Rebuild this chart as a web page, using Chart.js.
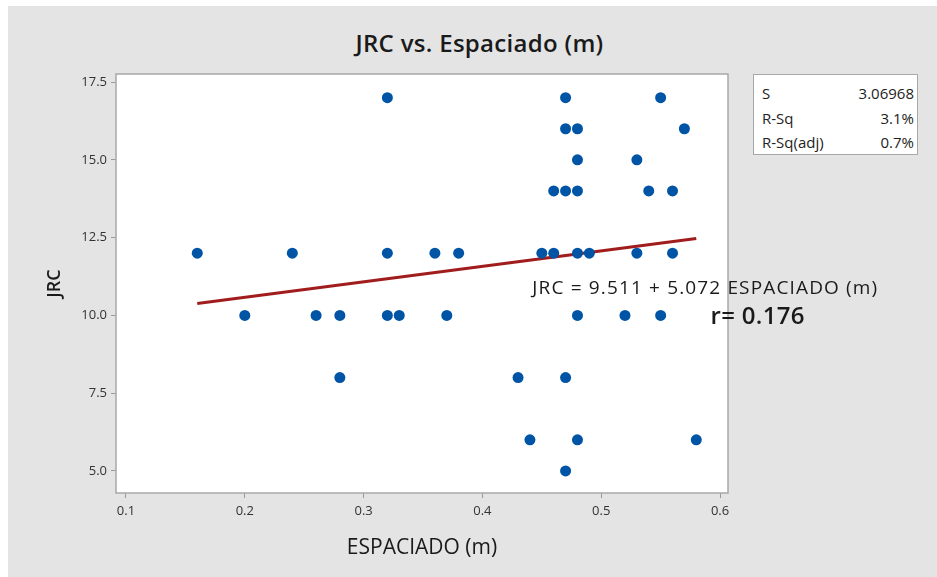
<!DOCTYPE html>
<html>
<head>
<meta charset="utf-8">
<script src="https://cdn.jsdelivr.net/npm/chart.js@4.4.1/dist/chart.umd.min.js"></script>
<style>
	html, body { margin: 0; padding: 0; background: #fff; }
	body { width: 937px; height: 577px; position: relative; overflow: hidden; font-family: 'Open Sans', sans-serif; }
	#frame { position: absolute; left: 8px; top: 6px; right: 0; bottom: 0; background: #e4e4e4; }
	#title { position: absolute; left: 8px; right: 0; top: 26px; padding-left: 14px; text-align: center; font-size: 24px; font-weight: 600; color: #1a1a1a; letter-spacing: 0.3px; }
	#chart { position: absolute; left: 0; top: 0; }
	#stats { position: absolute; left: 753px; top: 74px; width: 163px; height: 79px; background: #fff; border: 1px solid #a8a8a8; font-size: 15px; color: #222; }
	#stats div { display: flex; justify-content: space-between; padding: 0 3px 0 8px; height: 24.5px; line-height: 24.5px; }
	#stats div:first-child { margin-top: 6px; }
</style>
</head>
<body>
<div id="frame"></div>
<div id="title">JRC vs. Espaciado (m)</div>
<canvas id="chart" width="937" height="577"></canvas>
<div id="stats"></div>
<script>
'use strict'

// puntos
const espaciado = [0.32, 0.47, 0.55,
	0.47, 0.48, 0.57,
	0.48, 0.53,
	0.46, 0.47, 0.48, 0.54, 0.56,
	0.16, 0.24, 0.32, 0.36, 0.38, 0.45, 0.46, 0.48, 0.49, 0.53, 0.56,
	0.20, 0.26, 0.28, 0.32, 0.33, 0.37, 0.48, 0.52, 0.55,
	0.28, 0.43, 0.47,
	0.44, 0.48, 0.58,
	0.47];
const jrc = [17, 17, 17,
	16, 16, 16,
	15, 15,
	14, 14, 14, 14, 14,
	12, 12, 12, 12, 12, 12, 12, 12, 12, 12, 12,
	10, 10, 10, 10, 10, 10, 10, 10, 10,
	8, 8, 8,
	6, 6, 6,
	5];

// recta ajustada (extremos)
const fitX = [0.16, 0.58];
const fitY = [10.38, 12.47];

const xTicks = [0.1, 0.2, 0.3, 0.4, 0.5, 0.6];
const yTicks = [5.0, 7.5, 10.0, 12.5, 15.0, 17.5];

const statLabels = ['S', 'R-Sq', 'R-Sq(adj)'];
const statValues = ['3.06968', '3.1%', '0.7%'];

const equation = 'JRC = 9.511 + 5.072 ESPACIADO (m)';
const rText = 'r= 0.176';

const stats = document.getElementById('stats');
statLabels.forEach((l, i) => {
	const row = document.createElement('div');
	row.innerHTML = '<span>' + l + '</span><span>' + statValues[i] + '</span>';
	stats.appendChild(row);
});

const tickFont = { family: "'Open Sans', sans-serif", size: 13 };

const plotBox = {
	id: 'plotBox',
	beforeDatasetsDraw(chart) {
		const a = chart.chartArea;
		const ctx = chart.ctx;
		ctx.save();
		ctx.fillStyle = '#fff';
		ctx.fillRect(a.left, a.top, a.right - a.left, a.bottom - a.top);
		ctx.restore();
	},
	afterDatasetsDraw(chart) {
		const a = chart.chartArea;
		const ctx = chart.ctx;
		const x = chart.scales.x, y = chart.scales.y;
		ctx.save();
		ctx.strokeStyle = '#a8a8a8';
		ctx.lineWidth = 1.5;
		ctx.strokeRect(a.left, a.top, a.right - a.left, a.bottom - a.top);
		ctx.fillStyle = '#1a1a1a';
		ctx.textBaseline = 'middle';
		ctx.font = "19px 'Open Sans', sans-serif";
		ctx.letterSpacing = '1.15px';
		ctx.fillText(equation, x.getPixelForValue(0.442), y.getPixelForValue(10.85));
		ctx.font = "600 24px 'Open Sans', sans-serif";
		ctx.letterSpacing = '0.3px';
		ctx.fillText(rText, x.getPixelForValue(0.592), y.getPixelForValue(9.95));
		ctx.letterSpacing = '0px';
		ctx.restore();
	}
};

new Chart(document.getElementById('chart'), {
	type: 'scatter',
	data: {
		datasets: [
			{
				data: espaciado.map((v, i) => ({ x: v, y: jrc[i] })),
				backgroundColor: '#0054a6',
				borderColor: '#0054a6',
				pointRadius: 5.5,
				borderWidth: 0,
				order: 1,
			},
			{
				type: 'line',
				data: fitX.map((v, i) => ({ x: v, y: fitY[i] })),
				borderColor: '#a11c1c',
				borderWidth: 3,
				pointRadius: 0,
				fill: false,
				order: 2,
			},
		],
	},
	options: {
		responsive: false,
		animation: false,
		clip: false,
		layout: { padding: { left: 8, top: 74, right: 209, bottom: 0 } },
		plugins: {
			legend: { display: false },
			tooltip: { enabled: false },
		},
		scales: {
			x: {
				type: 'linear',
				min: 0.0916,
				max: 0.6067,
				afterBuildTicks: (s) => { s.ticks = xTicks.map(v => ({ value: v })) },
				afterFit: (s) => { s.height = 84 },
				ticks: { font: tickFont, color: '#333', padding: 5, callback: (v) => v.toFixed(1) },
				grid: { drawOnChartArea: false, drawTicks: true, tickLength: 5, color: '#999' },
				border: { display: false },
				title: { display: true, text: 'ESPACIADO (m)', color: '#1a1a1a', font: { family: "'Open Sans', sans-serif", size: 21 }, padding: { top: 0, bottom: 16 } },
			},
			y: {
				type: 'linear',
				min: 4.29,
				max: 17.76,
				afterBuildTicks: (s) => { s.ticks = yTicks.map(v => ({ value: v })) },
				afterFit: (s) => { s.width = 108 },
				ticks: { font: tickFont, color: '#333', padding: 4, callback: (v) => v.toFixed(1) },
				grid: { drawOnChartArea: false, drawTicks: true, tickLength: 5, color: '#999' },
				border: { display: false },
				title: { display: true, text: 'JRC', color: '#1a1a1a', font: { family: "'Open Sans', sans-serif", size: 18, weight: '600' }, padding: { top: 36, bottom: 0 } },
			},
		},
	},
	plugins: [plotBox],
});
</script>
</body>
</html>
